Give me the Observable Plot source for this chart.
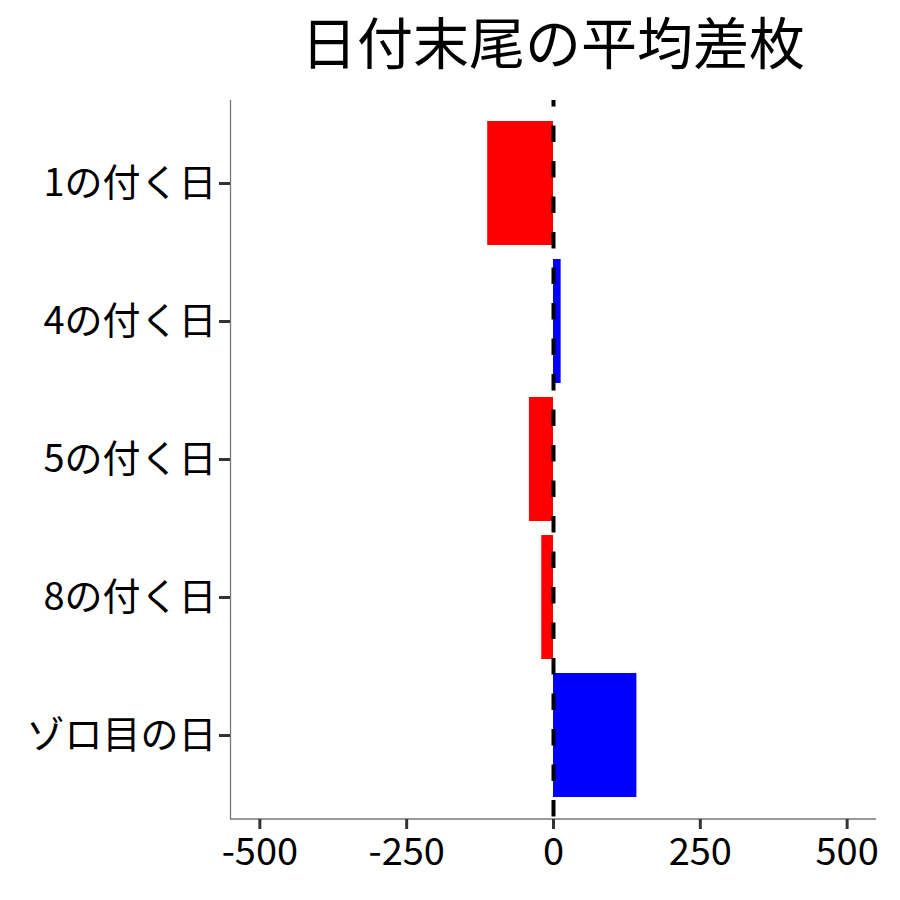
<!DOCTYPE html>
<html><head><meta charset="utf-8">
<script src="https://cdn.jsdelivr.net/npm/d3@7"></script>
<script src="https://cdn.jsdelivr.net/npm/@observablehq/plot@0.6"></script>
<style>
body{margin:0;background:#fff;font-family:"Noto Sans CJK JP","Noto Sans",sans-serif;}
#wrap{width:900px;}
#title{height:80px;line-height:80px;font-size:56px;text-align:center;padding-left:230px;padding-right:24px;color:#000;white-space:nowrap;}
</style></head>
<body>
<div id="wrap"><div id="title">日付末尾の平均差枚</div><div id="chart"></div></div>
<script>
const categories = ["1の付く日", "4の付く日", "5の付く日", "8の付く日", "ゾロ目の日"];
const values = [-112, 13, -41, -20, 142];
const xTicks = [-500, -250, 0, 250, 500];
const xDomain = [-550, 550];

const data = categories.map((c, i) => ({cat: c, v: values[i]}));

const bottomLine = (index, scales, vals, dims) => {
  const l = d3.create("svg:line")
    .attr("x1", dims.marginLeft).attr("x2", dims.width - dims.marginRight)
    .attr("y1", dims.height - dims.marginBottom).attr("y2", dims.height - dims.marginBottom)
    .attr("stroke", "#777").attr("stroke-width", 1.3);
  return l.node();
};

const chart = Plot.plot({
  width: 900,
  height: 820,
  marginTop: 20,
  marginBottom: 81,
  marginLeft: 230,
  marginRight: 24,
  style: {fontFamily: '"Noto Sans CJK JP","Noto Sans",sans-serif', fontSize: "38px", color: "#000", background: "#fff"},
  x: {domain: xDomain, ticks: xTicks, label: null},
  y: {domain: categories, paddingInner: 0.1, paddingOuter: 0.15, label: null},
  marks: [
    Plot.barX(data, {y: "cat", x: "v", fill: d => d.v < 0 ? "#FF0000" : "#0000FF"}),
    Plot.ruleX([xDomain[0]], {stroke: "#777", strokeWidth: 1.3}),
    bottomLine,
    Plot.axisX({ticks: xTicks, tickSize: 10, tickPadding: 9, stroke: "#333", strokeWidth: 3, fontSize: 38, label: null, tickFormat: d => String(d)}),
    Plot.axisY({tickSize: 11, tickPadding: 3, stroke: "#333", strokeWidth: 3, fontSize: 38, label: null}),
    Plot.ruleX([0], {stroke: "#000", strokeWidth: 4, strokeDasharray: "16.5,19", strokeDashoffset: 10})
  ]
});
document.getElementById("chart").appendChild(chart);
</script>
</body></html>
